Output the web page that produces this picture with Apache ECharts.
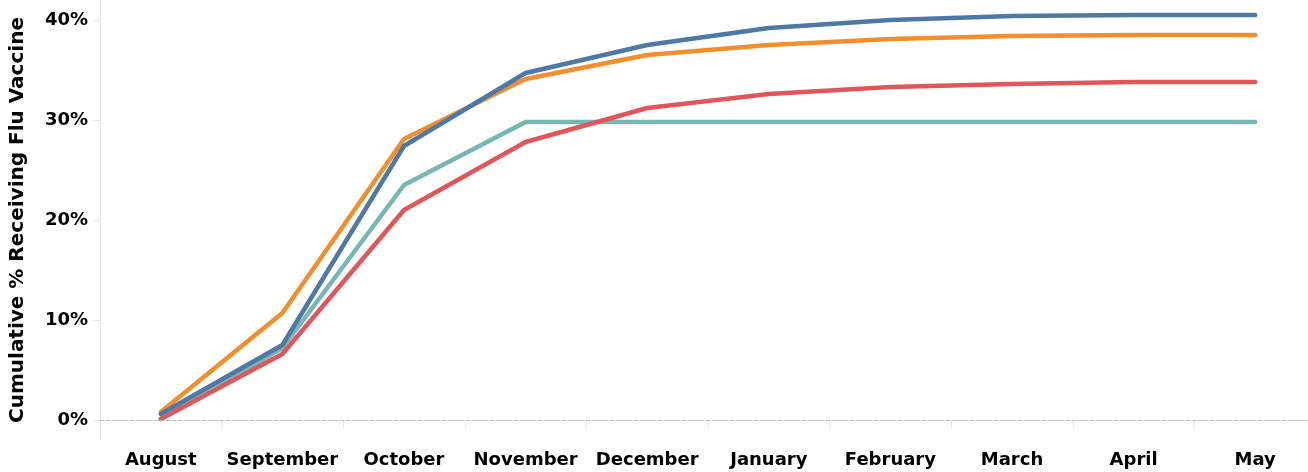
<!DOCTYPE html>
<html>
<head>
<meta charset="utf-8">
<script src="https://cdn.jsdelivr.net/npm/echarts@6/dist/echarts.min.js"></script>
<style>
html,body{margin:0;padding:0;background:#fff;}
#chart{width:1308px;height:472px;}
</style>
</head>
<body>
<div id="chart"></div>
<script>
const months = ['August','September','October','November','December','January','February','March','April','May'];
const yTicks = [0,10,20,30,40];
const blueSeries   = [0.6, 7.5, 27.4, 34.7, 37.5, 39.2, 40.0, 40.4, 40.5, 40.5];
const orangeSeries = [0.8, 10.7, 28.1, 34.1, 36.5, 37.5, 38.1, 38.4, 38.5, 38.5];
const redSeries    = [0.1, 6.6, 21.0, 27.8, 31.2, 32.6, 33.3, 33.6, 33.8, 33.8];
const tealSeries   = [0.1, 7.2, 23.5, 29.8, 29.8, 29.8, 29.8, 29.8, 29.8, 29.8];

const font = '"DejaVu Sans", sans-serif';
const chart = echarts.init(document.getElementById('chart'));
function line(name, data, color, extra) {
  return Object.assign({
    name, type: 'line', data, symbol: 'none', smooth: false,
    lineStyle: { color, width: 4.5, cap: 'round', join: 'round' },
    itemStyle: { color }, animation: false
  }, extra || {});
}
chart.setOption({
  animation: false,
  grid: { left: 100, top: 0, width: 1216, height: 440, containLabel: false, outerBoundsMode: 'none' },
  xAxis: {
    type: 'category', data: months, boundaryGap: true,
    axisLine: { show: true, lineStyle: { color: '#e8e8e8', width: 1 } },
    axisTick: { show: true, length: 8, interval: 0, lineStyle: { color: '#e8e8e8' } },
    axisLabel: { color: '#000', fontFamily: font, fontWeight: 'bold', fontSize: 18, margin: 11, interval: 0 },
    splitLine: { show: false }
  },
  yAxis: {
    type: 'value', min: -2, max: 42,
    name: 'Cumulative % Receiving Flu Vaccine', nameLocation: 'middle', nameRotate: 90, nameGap: 72,
    nameTextStyle: { color: '#000', fontFamily: font, fontWeight: 'bold', fontSize: 20 },
    axisLine: { show: true, lineStyle: { color: '#e8e8e8', width: 1 } },
    axisTick: { show: true, length: 7, customValues: yTicks, lineStyle: { color: '#e8e8e8' } },
    axisLabel: { color: '#000', fontFamily: font, fontWeight: 'bold', fontSize: 18, margin: 12,
      customValues: yTicks, formatter: v => v + '%' },
    splitLine: { show: false }
  },
  series: [
    line('Teal', tealSeries, '#76b7b2', {
      markLine: { silent: true, symbol: 'none', label: { show: false },
        lineStyle: { color: '#bdbdbd', type: 'dashed', width: 1 }, data: [{ yAxis: 0 }] }
    }),
    line('Red', redSeries, '#e15759'),
    line('Orange', orangeSeries, '#f28e2b'),
    line('Blue', blueSeries, '#4e79a7')
  ]
});
</script>
</body>
</html>
